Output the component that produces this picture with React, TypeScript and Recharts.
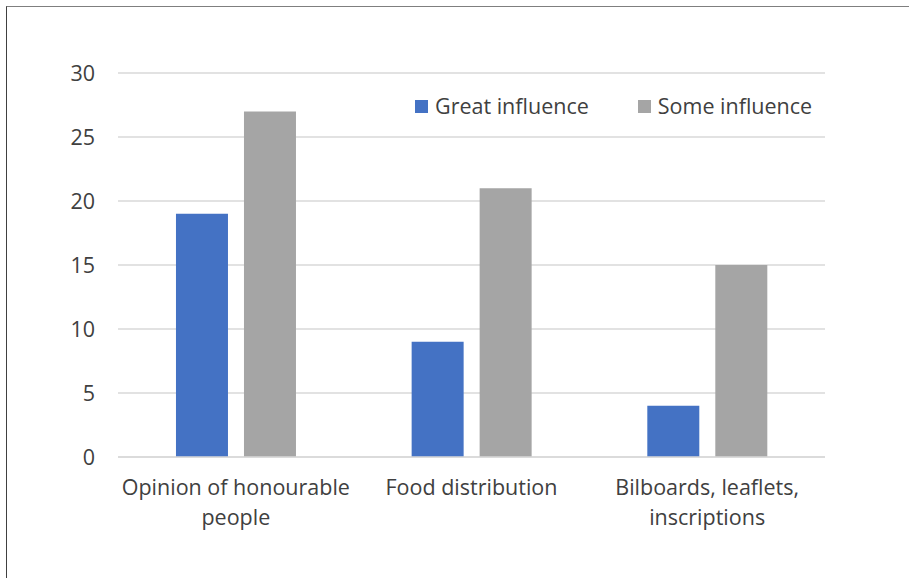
import React from 'react';
import { BarChart, Bar, XAxis, YAxis, CartesianGrid } from 'recharts';

const categories = ['Opinion of honourable\npeople', 'Food distribution', 'Bilboards, leaflets,\ninscriptions'];
const greatInfluence = [19, 9, 4];
const someInfluence = [27, 21, 15];
const yTicks = [0, 5, 10, 15, 20, 25, 30];

const series = [
  { key: 'great', name: 'Great influence', color: '#4472C4' },
  { key: 'some', name: 'Some influence', color: '#A5A5A5' },
];

const data = categories.map((category, i) => ({
  category,
  great: greatInfluence[i],
  some: someInfluence[i],
}));

const FONT = '"Open Sans", "Noto Sans", sans-serif';
const TEXT = '#404040';
const FONT_SIZE = 21.5;

// category names break onto a second line where they contain '\n'
const CategoryTick = ({ x, y, payload }: any) => {
  const lines = String(payload.value).split('\n');
  return (
    <text x={x} y={y} textAnchor="middle" fill={TEXT} fontSize={FONT_SIZE} fontFamily={FONT}>
      {lines.map((line, i) => (
        <tspan key={i} x={x} dy={i === 0 ? 38 : 30}>
          {line}
        </tspan>
      ))}
    </text>
  );
};

const ChartLegend = () => (
  <div
    style={{
      position: 'absolute',
      left: 415,
      top: 92,
      display: 'flex',
      fontFamily: FONT,
      fontSize: FONT_SIZE,
      color: TEXT,
      lineHeight: '28px',
      whiteSpace: 'nowrap',
    }}
  >
    {series.map((s, i) => (
      <div key={s.key} style={{ display: 'flex', alignItems: 'center', marginRight: i === 0 ? 49 : 0 }}>
        <span style={{ width: 13, height: 13, background: s.color, marginRight: 7, display: 'inline-block' }} />
        <span>{s.name}</span>
      </div>
    ))}
  </div>
);

export default function App() {
  return (
    <div style={{ position: 'absolute', left: 0, top: 0, width: 909, height: 578, overflow: 'hidden', background: '#fff' }}>
      <div
        style={{
          position: 'absolute',
          left: 6,
          top: 6,
          width: 940,
          height: 600,
          borderLeft: '1px solid #404040',
          borderTop: '1px solid #7f7f7f',
        }}
      />
      <div style={{ position: 'absolute', left: 0, top: 0 }}>
        <BarChart
          width={909}
          height={578}
          data={data}
          margin={{ top: 73, right: 84, bottom: 41, left: 0 }}
          barCategoryGap="24.6%"
          barGap={16}
        >
          <CartesianGrid vertical={false} stroke="#d9d9d9" strokeWidth={1.5} />
          <XAxis
            dataKey="category"
            axisLine={{ stroke: '#d9d9d9', strokeWidth: 1.5 }}
            tickLine={false}
            tickSize={0}
            tickMargin={0}
            height={80}
            interval={0}
            tick={<CategoryTick />}
          />
          <YAxis
            domain={[0, 30]}
            ticks={yTicks}
            width={118}
            axisLine={false}
            tickLine={false}
            tickSize={0}
            tickMargin={23}
            tick={{ fill: TEXT, fontSize: FONT_SIZE, fontFamily: FONT }}
          />
          {series.map((s) => (
            <Bar key={s.key} dataKey={s.key} name={s.name} fill={s.color} isAnimationActive={false} />
          ))}
        </BarChart>
      </div>
      <ChartLegend />
    </div>
  );
}
